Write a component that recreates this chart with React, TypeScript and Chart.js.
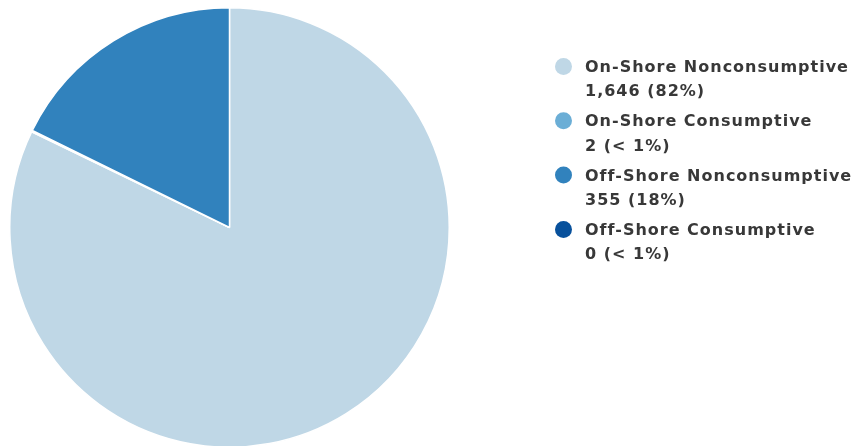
import React, { useEffect, useRef } from "react";
import { Chart, registerables } from "chart.js";

Chart.register(...registerables);

const categories = [
  "On-Shore Nonconsumptive",
  "On-Shore Consumptive",
  "Off-Shore Nonconsumptive",
  "Off-Shore Consumptive",
];
const values = [1646, 2, 355, 0];
const valueLabels = ["1,646 (82%)", "2 (< 1%)", "355 (18%)", "0 (< 1%)"];
const colors = ["#bfd7e6", "#6baed6", "#3182bd", "#08519c"];

const legendPlugin = {
  id: "customLegend",
  afterDraw(chart: any) {
    const ctx = chart.ctx;
    ctx.save();
    const x0 = 563.5;
    const tx = 585;
    const y0 = 72;
    const groupGap = 54.3;
    const lineGap = 24.3;
    ctx.textBaseline = "alphabetic";
    ctx.textAlign = "left";
    ctx.font = 'bold 16px "DejaVu Sans", sans-serif';
    try {
      (ctx as any).letterSpacing = "1px";
    } catch (e) {}
    categories.forEach((c, i) => {
      const by = y0 + i * groupGap;
      ctx.beginPath();
      ctx.arc(x0, by - 5.5, 8.5, 0, Math.PI * 2);
      ctx.fillStyle = colors[i];
      ctx.fill();
      ctx.fillStyle = "#383838";
      ctx.fillText(c, tx, by);
      ctx.fillText(valueLabels[i], tx, by + lineGap);
    });
    ctx.restore();
  },
};

export default function App() {
  const ref = useRef<HTMLCanvasElement | null>(null);
  useEffect(() => {
    if (!ref.current) return;
    const chart = new Chart(ref.current, {
      type: "pie",
      data: {
        labels: categories,
        datasets: [
          {
            data: values,
            backgroundColor: colors,
            borderColor: "#ffffff",
            borderWidth: 1.5,
          },
        ],
      },
      options: {
        animation: false,
        responsive: false,
        maintainAspectRatio: false,
        layout: { padding: { left: 9, top: 7, right: 418, bottom: 0 } },
        plugins: {
          legend: { display: false },
          tooltip: { enabled: false },
        },
      },
      plugins: [legendPlugin],
    });
    return () => chart.destroy();
  }, []);
  return (
    <div style={{ position: "fixed", left: 0, top: 0, width: 868, height: 446, background: "#fff" }}>
      <canvas ref={ref} width={868} height={448} style={{ width: 868, height: 448 }} />
    </div>
  );
}
